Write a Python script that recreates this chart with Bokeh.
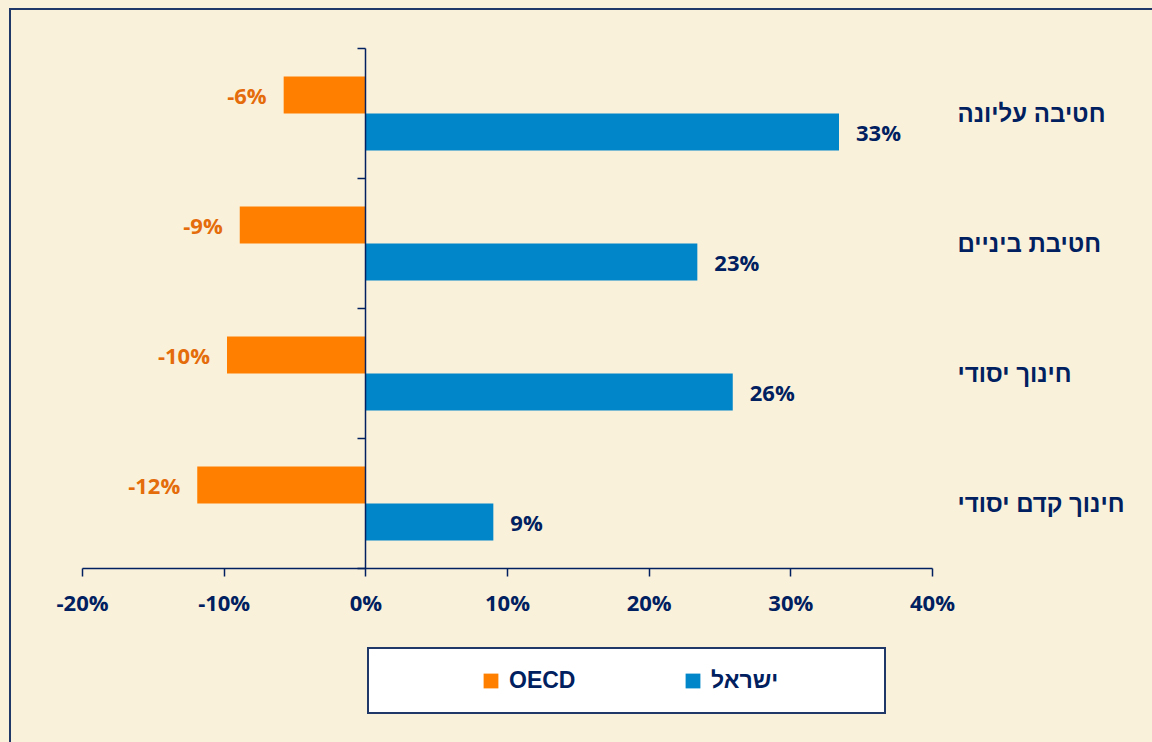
from bokeh.plotting import figure
from bokeh.models import (Range1d, LinearAxis, FixedTicker, PrintfTickFormatter,
                          CustomJSTickFormatter, ColumnDataSource, Legend,
                          LegendItem, LabelSet)
from bokeh.core.properties import value
from bokeh.embed import file_html
from bokeh.resources import INLINE

# ---- data (top to bottom as in the picture) ----
categories = ["חטיבה עליונה", "חטיבת ביניים", "חינוך יסודי", "חינוך קדם יסודי"]
oecd = [-5.8, -8.9, -9.8, -11.9]
israel = [33.4, 23.4, 25.9, 9.0]
oecd_labels = ["-6%", "-9%", "-10%", "-12%"]
israel_labels = ["33%", "23%", "26%", "9%"]
series_names = ["OECD", "ישראל"]
x_ticks = [-20, -10, 0, 10, 20, 30, 40]

NAVY = "#002060"
FRAME = "#1F3868"
ORANGE = "#FF8000"
ORANGE_TXT = "#E46C0A"
BLUE = "#0086C9"
CREAM = "#FAF1DA"

# ---- layout (pixels) ----
W, H = 1152, 742
AX_L, AX_R, AX_T, AX_B = 82, 932, 48, 568   # where the axes box sits

n = len(categories)
x0, x1 = x_ticks[0], x_ticks[-1]
ppx = (AX_R - AX_L) / (x1 - x0)
ppy = (AX_B - AX_T) / n
x_range = Range1d(x0 - AX_L / ppx, x1 + (W - AX_R) / ppx)
y_range = Range1d(0 - (H - AX_B) / ppy, n + AX_T / ppy)

centers = [n - i - 0.5 for i in range(n)]
bar_h = 0.285
src = ColumnDataSource(dict(
    center=centers,
    y_oecd=[c + bar_h / 2 for c in centers],
    y_isr=[c - bar_h / 2 for c in centers],
    oecd=oecd, israel=israel,
    oecd_lab=oecd_labels, isr_lab=israel_labels,
))

p = figure(width=W, height=H, x_range=x_range, y_range=y_range,
           output_backend="svg", toolbar_location=None, min_border=0,
           background_fill_alpha=0, border_fill_alpha=0,
           outline_line_color=None)
p.styles = {
    "background": (f"linear-gradient({FRAME},{FRAME}) 9px 8px / 100% 2px no-repeat, "
                   f"linear-gradient({FRAME},{FRAME}) 9px 8px / 2px 100% no-repeat, "
                   f"{CREAM}"),
}
p.xgrid.visible = False
p.ygrid.visible = False

# x axis at y = 0
xa = p.xaxis[0]
xa.fixed_location = 0
xa.bounds = (x0, x1)
xa.ticker = FixedTicker(ticks=x_ticks)
xa.formatter = PrintfTickFormatter(format="%d%%")
xa.minor_tick_line_color = None
xa.major_tick_in = 0
xa.major_tick_out = 8
xa.axis_line_color = NAVY
xa.axis_line_width = 1.5
xa.major_tick_line_color = NAVY
xa.major_tick_line_width = 1.5
xa.major_label_text_font = "Open Sans"
xa.major_label_text_font_style = "bold"
xa.major_label_text_font_size = "22px"
xa.major_label_text_color = NAVY
xa.major_label_standoff = 10

# vertical axis at x = 0, ticks on category boundaries
ya = p.yaxis[0]
ya.fixed_location = 0
ya.bounds = (0, n)
ya.ticker = FixedTicker(ticks=list(range(n + 1)))
ya.formatter = CustomJSTickFormatter(code="return ''")
ya.minor_tick_line_color = None
ya.major_tick_in = 0
ya.major_tick_out = 8
ya.axis_line_color = NAVY
ya.axis_line_width = 1.5
ya.major_tick_line_color = NAVY
ya.major_tick_line_width = 1.5

# right axis holding category names
ra = LinearAxis(fixed_location=x1, bounds=(0, n),
                ticker=FixedTicker(ticks=centers),
                major_label_overrides={c: cat for c, cat in zip(centers, categories)},
                axis_line_color=None, major_tick_line_color=None,
                minor_tick_line_color=None, major_tick_out=0, major_tick_in=0,
                major_label_standoff=25,
                major_label_text_font="Liberation Sans",
                major_label_text_font_style="bold",
                major_label_text_font_size="24px",
                major_label_text_color=NAVY)
p.add_layout(ra, "right")

# bars
r_o = p.hbar(y="y_oecd", left=0, right="oecd", height=bar_h, source=src,
             fill_color=ORANGE, line_color=None)
r_i = p.hbar(y="y_isr", left=0, right="israel", height=bar_h, source=src,
             fill_color=BLUE, line_color=None)

# data labels
p.add_layout(LabelSet(x="oecd", y="y_oecd", text="oecd_lab", source=src,
                      x_offset=-17, text_align="right", text_baseline="middle",
                      text_font=value("Open Sans"), text_font_style="bold",
                      text_font_size="22px", text_color=ORANGE_TXT))
p.add_layout(LabelSet(x="israel", y="y_isr", text="isr_lab", source=src,
                      x_offset=17, text_align="left", text_baseline="middle",
                      text_font=value("Open Sans"), text_font_style="bold",
                      text_font_size="22px", text_color=NAVY))

# legend swatches (zero-size markers on the plot, drawn only in the legend)
lo = p.scatter(x="oecd", y="y_oecd", source=src, size=0, marker="square",
               fill_color=ORANGE, line_color=None)
li = p.scatter(x="israel", y="y_isr", source=src, size=0, marker="square",
               fill_color=BLUE, line_color=None)

legend_kw = dict(
    items=[LegendItem(label=series_names[0], renderers=[lo]),
           LegendItem(label=series_names[1], renderers=[li])],
    orientation="horizontal", location=(367, 28),
    padding=10, spacing=2, margin=0,
    glyph_width=37, glyph_height=43, label_height=43, label_width=163,
    label_standoff=0,
    border_line_color=FRAME, border_line_width=2, border_line_alpha=1.0,
    background_fill_color="white", background_fill_alpha=1.0,
    label_text_font="Liberation Sans", label_text_font_style="bold",
    label_text_font_size="23px", label_text_color=NAVY,
)
if "title_location" in Legend.properties():
    legend_kw.update(title=" ", title_location="left", title_standoff=92,
                     title_text_font_size="1px")
legend = Legend(**legend_kw)
p.add_layout(legend)

open("out.html", "w").write(file_html(p, INLINE))
